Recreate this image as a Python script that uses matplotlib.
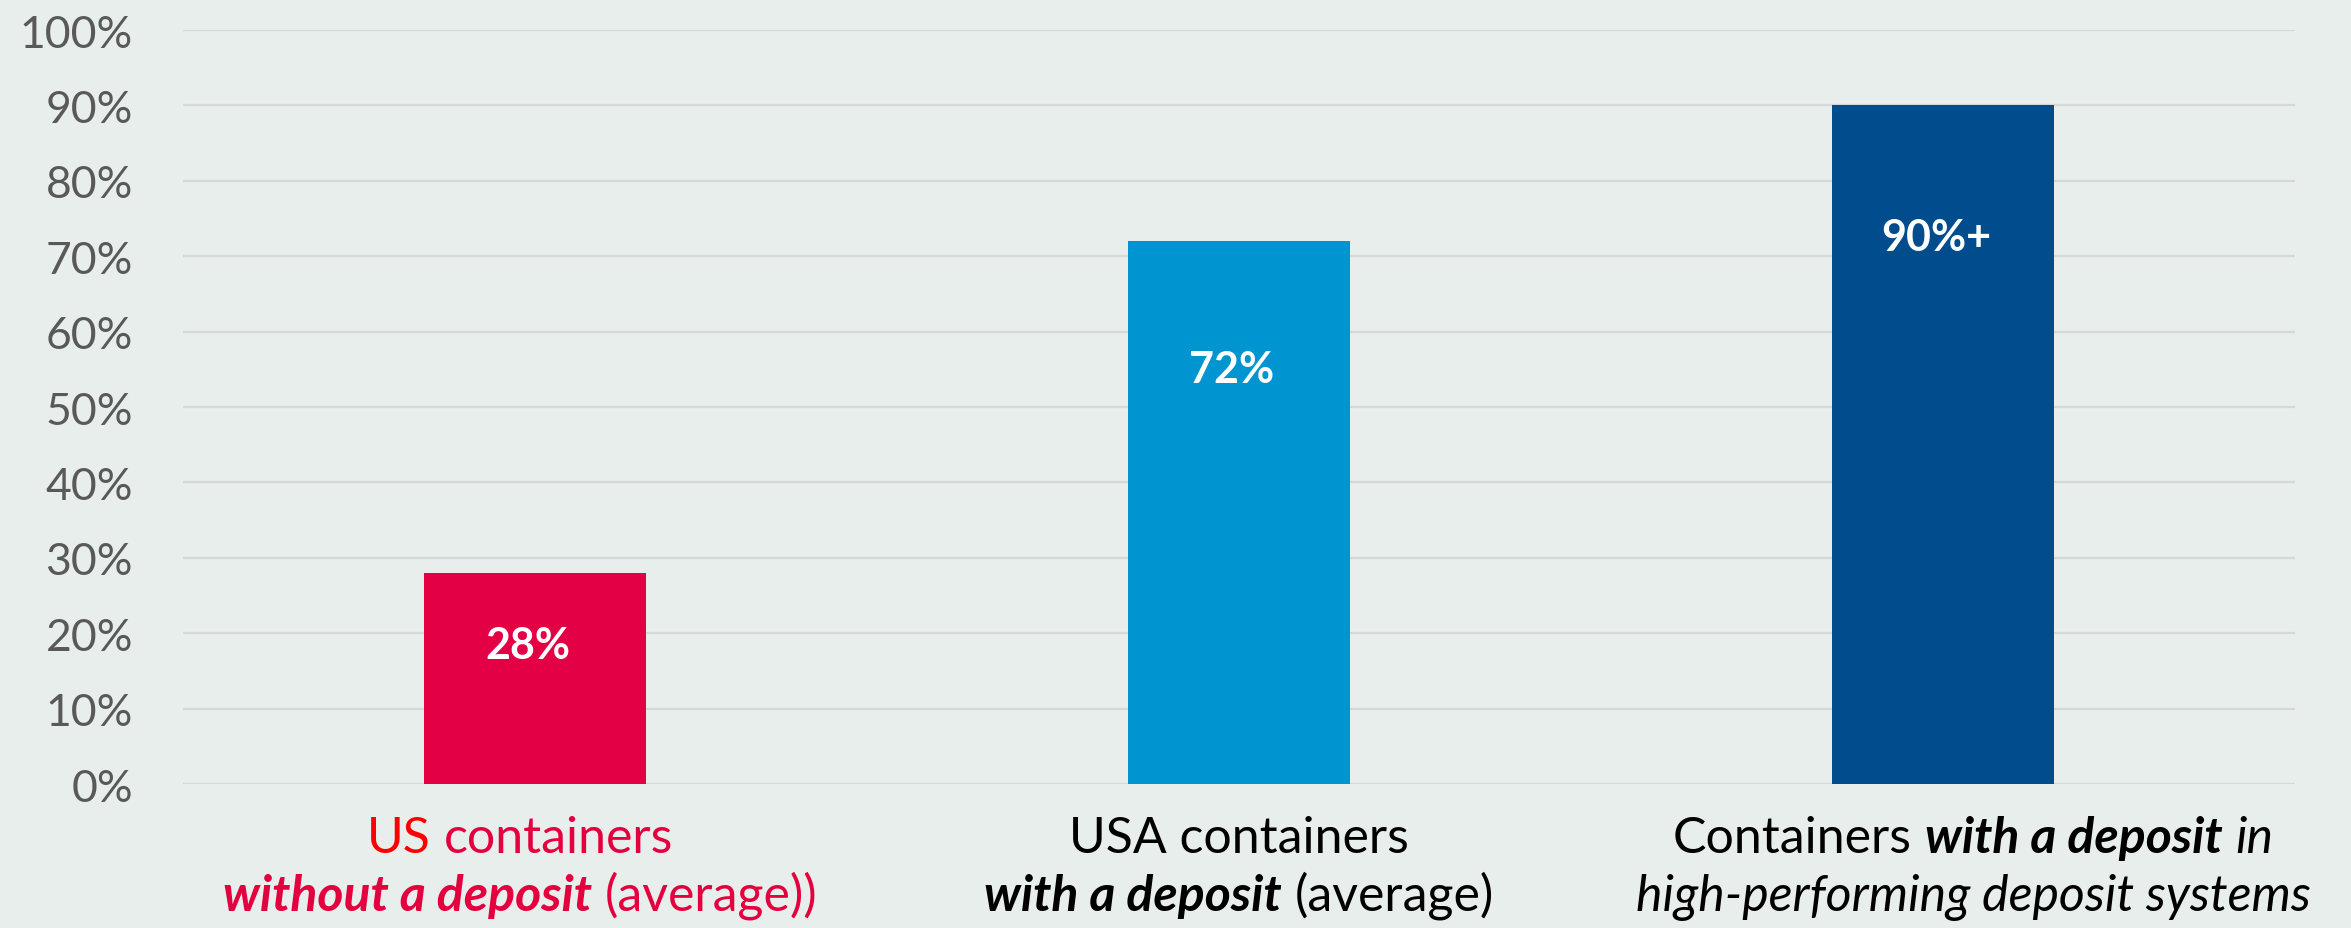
import matplotlib
matplotlib.use("Agg")
import matplotlib.pyplot as plt

# ---- data ----
categories = ["US containers without a deposit (average))",
              "USA containers with a deposit (average)",
              "Containers with a deposit in high-performing deposit systems"]
values = [28, 72, 90]
value_labels = ["28%", "72%", "90%+"]
label_y = [18.5, 55, 72.5]
yticks = [0, 10, 20, 30, 40, 50, 60, 70, 80, 90, 100]
ytick_labels = [f"{v}%" for v in yticks]

bar_colors = ["#E30045", "#0095D0", "#004C8C"]
bg = "#E8EEEC"
FONT = "Lato"

W, H, DPI = 2351, 929, 100
fig = plt.figure(figsize=(W / DPI, H / DPI), dpi=DPI, facecolor=bg)
ax = fig.add_axes([183 / W, 1 - 785 / H, (2295 - 183) / W, (785 - 31) / H])
ax.set_facecolor(bg)

x = list(range(len(values)))
ax.bar(x, values, width=0.314, color=bar_colors, zorder=3)
ax.set_xlim(-0.5, len(values) - 0.5)
ax.set_ylim(0, 100)
ax.set_yticks(yticks)
ax.set_yticklabels(ytick_labels, fontsize=32, color="#595959", family=FONT)
ax.tick_params(axis="y", length=0, pad=36)
ax.tick_params(axis="x", length=0, labelbottom=False)
ax.grid(axis="y", color="#D6D8D8", linewidth=1.6, zorder=0)
for s in ax.spines.values():
    s.set_visible(False)

for xi, ly, lab in zip(x, label_y, value_labels):
    ax.text(xi - 0.01, ly, lab, ha="center", va="center", color="white",
            fontsize=31, fontweight="bold", family=FONT, zorder=4)

# ---- rich category labels ----
red = "#FF0000"
crim = "#E4003F"
blk = "#000000"
R = dict(fontweight="normal", fontstyle="normal")
BI = dict(fontweight="bold", fontstyle="italic")
I = dict(fontweight="normal", fontstyle="italic")

lines = [
    [  # category 0
        [("US", red, R), ("containers", crim, R)],
        [("without a deposit", crim, BI), ("(average))", crim, R)],
    ],
    [
        [("USA containers", blk, R)],
        [("with a deposit", blk, BI), ("(average)", blk, R)],
    ],
    [
        [("Containers", blk, R), ("with a deposit", blk, BI), ("in", blk, I)],
        [("high-performing deposit systems", blk, I)],
    ],
]
label_dx_px = [-15, 0, 30]
baselines = [1 - 853 / H, 1 - 911 / H]
FS = 36

fig.canvas.draw()
renderer = fig.canvas.get_renderer()


def width_px(s, style):
    t = fig.text(0, 0, s, fontsize=FS, family=FONT, **style)
    w = t.get_window_extent(renderer).width
    t.remove()
    return w


space_w = width_px("x x", R) - width_px("xx", R)

for ci, cat_lines in enumerate(lines):
    cx = ax.transData.transform((x[ci], 0))[0] + label_dx_px[ci]
    for li, pieces in enumerate(cat_lines):
        widths = [width_px(s, st) for s, _, st in pieces]
        total = sum(widths) + space_w * (len(pieces) - 1)
        start = cx - total / 2
        for (s, col, st), w in zip(pieces, widths):
            fig.text(start / W, baselines[li], s, fontsize=FS, family=FONT,
                     color=col, va="baseline", ha="left", **st)
            start += w + space_w

fig.savefig("out.png", dpi=DPI, facecolor=bg)
